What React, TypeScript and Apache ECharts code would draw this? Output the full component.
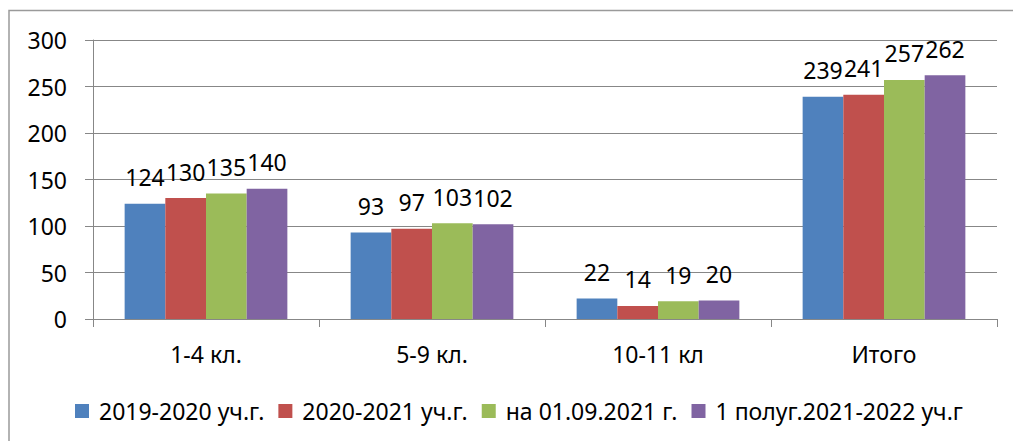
import React, { useEffect, useRef } from "react";
import * as echarts from "echarts";

const categories = ["1-4 кл.", "5-9 кл.", "10-11 кл", "Итого"];
const seriesNames = ["2019-2020 уч.г.", "2020-2021 уч.г.", "на 01.09.2021 г.", "1 полуг.2021-2022 уч.г"];
const s2019 = [124, 93, 22, 239];
const s2020 = [130, 97, 14, 241];
const s2021 = [135, 103, 19, 257];
const s2022 = [140, 102, 20, 262];
const colors = ["#4F81BD", "#C0504D", "#9BBB59", "#8064A2"];
const yTicks = { min: 0, max: 300, interval: 50 };

const FONT = "Noto Sans";
const FS = 23;

export default function App() {
  const ref = useRef<HTMLDivElement>(null);
  useEffect(() => {
    if (!ref.current) return;
    const chart = echarts.init(ref.current, undefined, { renderer: "svg" });
    const data = [s2019, s2020, s2021, s2022];
    chart.setOption({
      animation: false,
      textStyle: { fontFamily: FONT },
      graphic: [
        {
          type: "rect",
          shape: { x: 9, y: 10.5, width: 1100, height: 500 },
          style: { fill: "none", stroke: "#9a9a9a", lineWidth: 1.5 },
          silent: true,
        },
      ],
      grid: { left: 93, right: 16, top: 40, bottom: 122 },
      legend: {
        left: 70,
        top: 393,
        itemWidth: 14,
        itemHeight: 14,
        itemGap: 14,
        icon: "rect",
        textStyle: { fontFamily: FONT, fontSize: FS, lineHeight: 26, color: "#000", padding: [0, 0, 0, 5] },
        data: seriesNames,
      },
      xAxis: {
        type: "category",
        data: categories,
        axisLine: { lineStyle: { color: "#878787", width: 1 } },
        axisTick: { show: true, length: 8, alignWithLabel: false, lineStyle: { color: "#878787" } },
        axisLabel: { fontFamily: FONT, fontSize: FS, color: "#000", margin: 23 },
      },
      yAxis: {
        type: "value",
        min: yTicks.min,
        max: yTicks.max,
        interval: yTicks.interval,
        axisLine: { show: true, lineStyle: { color: "#878787", width: 1 } },
        axisTick: { show: true, length: 8, lineStyle: { color: "#878787" } },
        axisLabel: { fontFamily: FONT, fontSize: FS, color: "#000", margin: 26 },
        splitLine: { lineStyle: { color: "#878787", width: 1 } },
      },
      series: seriesNames.map((name, i) => ({
        name,
        type: "bar",
        data: data[i],
        barGap: "0%",
        barCategoryGap: "28%",
        itemStyle: { color: colors[i] },
        label: {
          show: true,
          position: "top",
          distance: 15,
          fontFamily: FONT,
          fontSize: FS,
          color: "#000",
        },
      })),
    });
    return () => chart.dispose();
  }, []);
  return (
    <div
      ref={ref}
      style={{ position: "absolute", left: 0, top: 0, width: 1013, height: 441 }}
    />
  );
}
